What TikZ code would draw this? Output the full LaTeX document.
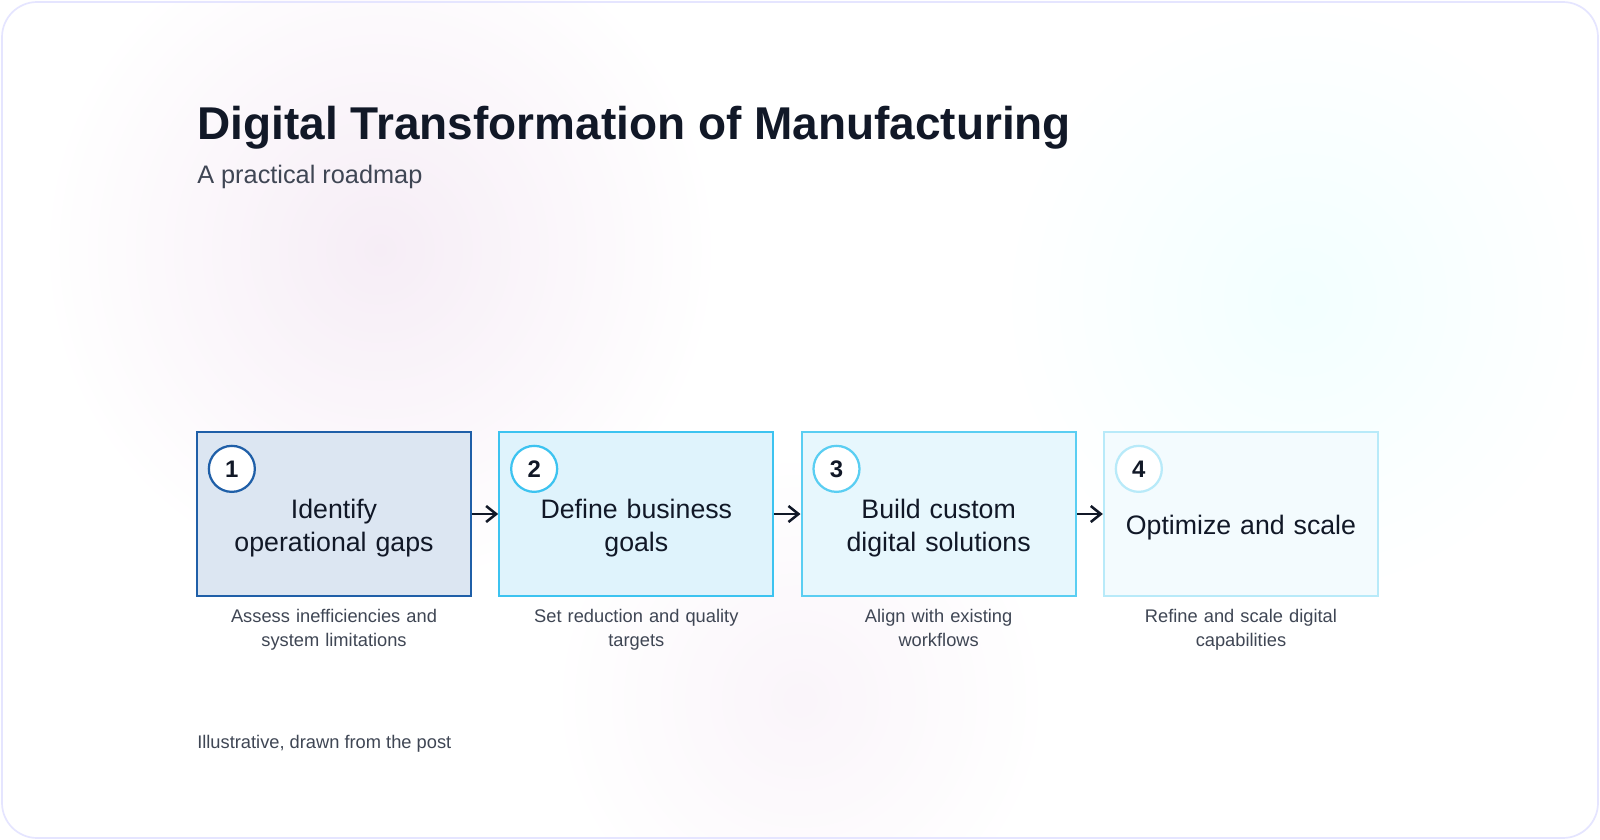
\documentclass[tikz,border=0pt]{standalone}
\usepackage{fontspec}
\setmainfont{Liberation Sans}
\usetikzlibrary{positioning,arrows.meta}
\definecolor{ink}{HTML}{111827}
\definecolor{muted}{HTML}{3F4654}
\definecolor{edgeA}{HTML}{1F5FA8}\definecolor{fillA}{HTML}{DCE6F2}
\definecolor{edgeB}{HTML}{3CC3F0}\definecolor{fillB}{HTML}{DFF3FC}
\definecolor{edgeC}{HTML}{5ACEF2}\definecolor{fillC}{HTML}{E7F7FD}
\definecolor{edgeD}{HTML}{B8EAF9}\definecolor{fillD}{HTML}{F3FBFE}
\tikzset{step box/.style={rectangle,draw,line width=1.6pt,minimum width=6.85cm,minimum height=4.1cm,inner sep=0pt},
         box text/.style={text width=6cm,align=center,font=\fontsize{19}{23}\selectfont,text=ink,inner sep=0pt},
         step num/.style={circle,draw,fill=white,line width=1.6pt,minimum size=1.15cm,inner sep=0pt,
           font=\bfseries\fontsize{17}{20}\selectfont,text=ink},
         step note/.style={text width=6.8cm,align=center,font=\fontsize{13}{17}\selectfont,text=muted,inner sep=0pt},
         step arrow/.style={-{Straight Barb[length=2.5mm,width=4mm]},line width=1.8pt,draw=ink}
}
\begin{document}
\begin{tikzpicture}[x=0.025cm,y=-0.025cm]
\useasboundingbox (0,0) rectangle (1600,840);
\fill[white] (0,0) rectangle (1600,840);
% soft background glows
\shade[inner color=violet!7,outer color=white] (380,250) circle (340);
\shade[inner color=cyan!5,outer color=white] (1300,300) circle (300);
\shade[inner color=violet!4,outer color=white] (800,700) circle (250);
\draw[blue!10,line width=1.2pt,rounded corners=25] (2,2) rectangle (1598,838);
% heading
\node[anchor=base west,inner sep=0pt,font=\bfseries\fontsize{32.7}{40}\selectfont,text=ink] (title) at (197,140) {Digital Transformation of Manufacturing};
\node[anchor=base west,inner sep=0pt,font=\fontsize{18}{22}\selectfont,text=muted] (sub) at (197,184) {A practical roadmap};
% steps
\node[step box,draw=edgeA,fill=fillA] (s1) at (334,514) {};
\node[step box,draw=edgeB,fill=fillB,right=0.65cm of s1] (s2) {};
\node[step box,draw=edgeC,fill=fillC,right=0.65cm of s2] (s3) {};
\node[step box,draw=edgeD,fill=fillD,right=0.65cm of s3] (s4) {};
\node[box text] (b1) at ([yshift=-0.35cm]s1.center) {Identify\\operational gaps};
\node[box text] (b2) at ([yshift=-0.35cm]s2.center) {Define business\\goals};
\node[box text] (b3) at ([yshift=-0.35cm]s3.center) {Build custom\\digital solutions};
\node[box text] (b4) at ([yshift=-0.35cm]s4.center) {Optimize and scale};
\foreach \i/\c in {1/edgeA,2/edgeB,3/edgeC,4/edgeD}{
  \node[step num,draw=\c] (n\i) at ([xshift=0.9cm,yshift=-0.95cm]s\i.north west) {\i};
}
\node[step note,below=0.3cm of s1] (t1) {Assess inefficiencies and\\system limitations};
\node[step note,below=0.3cm of s2] (t2) {Set reduction and quality\\targets};
\node[step note,below=0.3cm of s3] (t3) {Align with existing\\workflows};
\node[step note,below=0.3cm of s4] (t4) {Refine and scale digital\\capabilities};
\foreach \a/\b in {s1/s2,s2/s3,s3/s4}{
  \draw[step arrow] (\a.east) -- (\b.west);
}
\node[anchor=base west,inner sep=0pt,font=\fontsize{13}{16}\selectfont,text=muted] (foot) at (197,748) {Illustrative, drawn from the post};
\end{tikzpicture}
\end{document}
